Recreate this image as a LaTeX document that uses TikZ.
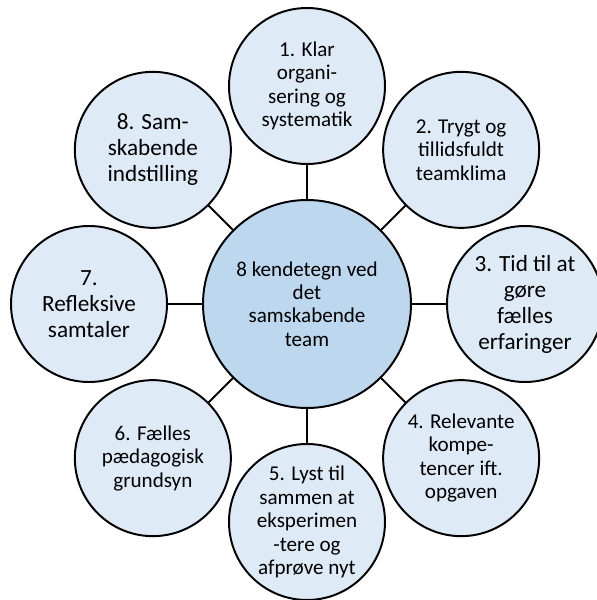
\documentclass[tikz,border=0pt]{standalone}
\usepackage{fontspec}
\setmainfont{Carlito}
\usetikzlibrary{positioning,calc}

\definecolor{outerblue}{HTML}{DEEBF7}
\definecolor{innerblue}{HTML}{BDD7EE}

\tikzset{
  trait/.style={circle,draw=black,line width=1.4pt,fill=outerblue,
    minimum size=3.9cm,inner sep=0pt,align=center,
    font=\fontsize{15}{16.7}\selectfont},
  bigtrait/.style={trait,font=\fontsize{16.5}{18.5}\selectfont},
  hub/.style={trait,fill=innerblue,minimum size=5.2cm},
  link/.style={line width=1.4pt}
}

\begin{document}
\begin{tikzpicture}
    % the page frame
    \useasboundingbox (0,0) rectangle (14.925,15);

    % the centre
    \node[hub] (team) at (7.675,7.4) {8 kendetegn ved\\det\\samskabende\\team};

    % the eight traits round it
    \node[trait]    (klar)     at ($(team)+(90:5.45)$)  {1. Klar\\organi-\\sering og\\systematik};
    \node[trait]    (trygt)    at ($(team)+(45:5.45)$)  {2. Trygt og\\tillidsfuldt\\teamklima};
    \node[bigtrait] (tid)      at ($(team)+(0:5.45)$)   {3. Tid til at\\gøre\\fælles\\erfaringer};
    \node[trait]    (kompe)    at ($(team)+(-45:5.45)$) {4. Relevante\\kompe-\\tencer ift.\\opgaven};
    \node[trait]    (lyst)     at ($(team)+(-90:5.45)$) {5. Lyst til\\sammen at\\eksperimen\\-tere og\\afprøve nyt};
    \node[trait]    (grundsyn) at ($(team)+(-135:5.45)$) {6. Fælles\\pædagogisk\\grundsyn};
    \node[bigtrait] (samtale)  at ($(team)+(180:5.45)$) {7.\\Refleksive\\samtaler};
    \node[bigtrait] (indstil)  at ($(team)+(135:5.45)$) {8. Sam-\\skabende\\indstilling};

    % the spokes
    \foreach \n in {klar,trygt,tid,kompe,lyst,grundsyn,samtale,indstil}
        \draw[link] (team) -- (\n);
\end{tikzpicture}
\end{document}
